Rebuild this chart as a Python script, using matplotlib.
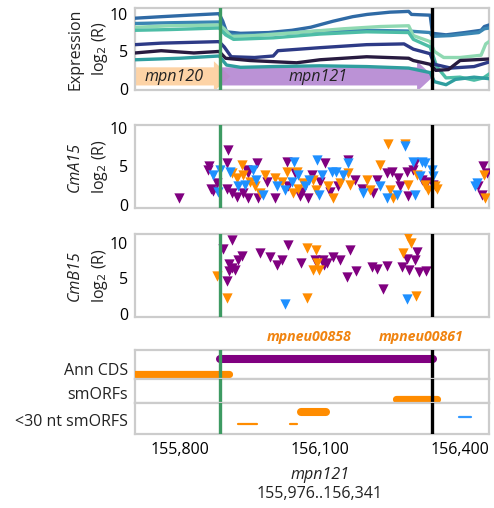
import matplotlib
matplotlib.use('Agg')
import matplotlib.pyplot as plt
from matplotlib.patches import Polygon

plt.rcParams['font.family'] = ['Open Sans', 'DejaVu Sans']
plt.rcParams['font.size'] = 11.5
plt.rcParams['text.color'] = '#222222'

# ---- data -------------------------------------------------------------
xlim = (155704, 156462)
green_pos = 155886
black_pos = 156340
tick_pos = [155800, 156100, 156400]
tick_labels = ['155,800', '156,100', '156,400']

# expression tracks (position, log2 R)
expr_pos = {
    'L1': [155704, 155760, 155820, 155884, 155892, 155900, 155930, 155990, 156040, 156080,
           156128, 156170, 156201, 156250, 156290, 156296, 156336, 156341, 156370, 156410,
           156445, 156452, 156462],
    'L2': [155704, 155780, 155884, 155895, 155905, 155960, 156020, 156100, 156200, 156290,
           156336, 156341, 156380, 156440, 156452, 156462],
    'L3': [155704, 155780, 155884, 155895, 155910, 155960, 156050, 156150, 156230, 156290,
           156300, 156336, 156345, 156365, 156400, 156445, 156455, 156462],
    'L4': [155704, 155780, 155884, 155898, 155915, 156000, 156100, 156200, 156290, 156300,
           156336, 156350, 156370, 156400, 156430, 156450, 156462],
    'L5': [155704, 155760, 155884, 155895, 155910, 155960, 156000, 156010, 156100, 156200,
           156280, 156300, 156336, 156345, 156380, 156430, 156462],
    'L6': [155704, 155760, 155830, 155884, 155898, 155950, 156050, 156100, 156200, 156290,
           156300, 156336, 156348, 156375, 156400, 156462],
    'L7': [155704, 155800, 155884, 155900, 155930, 156000, 156100, 156200, 156290, 156336,
           156345, 156370, 156390, 156430, 156462],
}
expr_val = {
    'L1': [9.4, 9.6, 9.8, 10.0, 9.0, 7.6, 7.4, 7.5, 7.8, 8.2, 9.0, 9.6, 9.9, 10.2, 10.3, 9.9,
           9.8, 7.4, 7.2, 7.5, 7.8, 8.3, 8.5],
    'L2': [8.7, 8.8, 8.9, 8.0, 7.2, 7.2, 7.4, 7.7, 7.8, 7.7, 7.5, 7.0, 7.1, 7.5, 8.0, 8.1],
    'L3': [8.2, 8.4, 8.5, 8.0, 7.0, 7.1, 7.5, 8.0, 8.3, 8.4, 7.1, 6.3, 5.0, 4.2, 4.2, 4.5,
           6.0, 6.3],
    'L4': [7.8, 7.9, 8.1, 7.2, 6.6, 6.8, 7.3, 7.6, 7.5, 6.6, 5.6, 3.0, 1.5, 1.6, 1.2, 1.5, 2.0],
    'L5': [5.9, 6.1, 6.3, 5.6, 4.3, 4.2, 4.4, 5.1, 5.5, 5.9, 6.0, 5.3, 4.7, 3.3, 2.8, 3.0, 3.6],
    'L6': [4.8, 5.1, 4.8, 5.0, 4.1, 3.8, 3.5, 3.9, 4.3, 4.1, 3.8, 3.3, 2.5, 2.6, 3.8, 4.0],
    'L7': [3.9, 4.1, 4.4, 3.2, 2.9, 3.0, 3.1, 3.0, 2.8, 2.2, 1.0, 0.6, 1.3, 1.6, 1.4],
}
expr_colors = {'L1': '#2f6aa5', 'L2': '#3a86b3', 'L3': '#8fd9b2', 'L4': '#4dbda6',
               'L5': '#2d3a86', 'L6': '#281b40', 'L7': '#2f9e9f'}

# genes drawn in the expression panel
gene_names = ['mpn120', 'mpn121']
gene_start = [155650, 155886]
gene_end = [155908, 156343]
gene_colors = ['#fdcf9c', '#b486d2']

# CmA15 peptides
a_purple_pos = [155798, 155860, 155863, 155867, 155871, 155880, 155903, 155901, 155901, 155912,
                155923, 155935, 155944, 155946, 155946, 155965, 155968, 155987, 156004, 156030,
                156032, 156047, 156058, 156062, 156075, 156083, 156100, 156111, 156122, 156139,
                156160, 156175, 156190, 156214, 156223, 156244, 156255, 156268, 156272, 156287,
                156289, 156300, 156304, 156319, 156330, 156343, 156439, 156448, 156450, 156458]
a_purple_val = [0.9, 4.5, 5.1, 2.1, 1.8, 2.8, 7.2, 5.4, 2.1, 1.5,
                1.0, 1.5, 4.6, 4.1, 0.9, 5.4, 0.9, 3.0, 0.9, 5.6,
                2.4, 4.1, 1.1, 1.7, 0.9, 3.9, 3.0, 5.4, 1.7, 2.4,
                5.9, 3.2, 2.1, 1.5, 3.2, 4.2, 4.3, 3.5, 2.4, 4.3,
                1.1, 4.5, 5.5, 3.2, 3.0, 2.6, 2.4, 1.3, 5.0, 4.1]
a_orange_pos = [155912, 155923, 155933, 155935, 155950, 155961, 155972, 155983, 156004, 156019,
                156030, 156043, 156051, 156053, 156064, 156085, 156092, 156118, 156128, 156143,
                156160, 156165, 156201, 156208, 156229, 156246, 156250, 156257, 156283, 156289,
                156308, 156325, 156332, 156347, 156351, 156452, 156454]
a_orange_val = [4.1, 3.5, 5.2, 3.9, 3.0, 2.4, 1.5, 3.9, 3.5, 3.0,
                4.3, 1.5, 4.3, 2.1, 2.8, 3.2, 1.9, 2.4, 0.9, 2.8,
                4.2, 2.6, 3.2, 1.9, 5.2, 7.9, 1.9, 0.9, 7.9, 2.6,
                3.9, 2.6, 1.9, 2.4, 2.1, 3.9, 0.9]
a_blue_pos = [155871, 155882, 155886, 155908, 155925, 155940, 155957, 155963, 155978, 156008,
              156025, 156040, 156045, 156053, 156068, 156077, 156094, 156098, 156105, 156126,
              156135, 156150, 156160, 156193, 156229, 156244, 156265, 156283, 156300, 156304,
              156315, 156319, 156325, 156340, 156343, 156433, 156437]
a_blue_val = [3.9, 1.7, 4.6, 4.3, 2.4, 2.6, 4.5, 3.2, 1.3, 2.4,
              1.9, 3.0, 5.6, 3.9, 2.4, 3.2, 5.9, 1.3, 3.9, 4.3,
              4.3, 3.9, 5.4, 1.5, 2.4, 0.9, 1.3, 7.7, 5.6, 1.3,
              3.7, 5.6, 5.4, 4.5, 3.7, 2.5, 2.9]

# CmB15 peptides
b_purple_pos = [155893, 155912, 155901, 155905, 155912, 155918, 155905, 155925, 155933, 155972,
                155993, 156008, 156019, 156032, 156060, 156090, 156107, 156115, 156109, 156128,
                156143, 156158, 156165, 156178, 156212, 156223, 156244, 156235, 156308, 156287,
                156304, 156276, 156291, 156313, 156328]
b_purple_val = [9.1, 10.3, 4.6, 7.0, 6.4, 6.2, 6.0, 7.6, 8.1, 8.6,
                8.0, 6.9, 7.6, 9.6, 7.2, 7.5, 7.5, 7.2, 6.9, 8.0,
                7.5, 5.2, 8.9, 6.0, 6.6, 6.3, 6.7, 3.5, 8.7, 7.7,
                7.5, 6.6, 6.2, 5.9, 6.0]
b_orange_pos = [155880, 155901, 156073, 156073, 156092, 156085, 156098, 156094, 156289, 156296,
                156278, 156306]
b_orange_val = [5.3, 2.3, 2.3, 9.3, 8.9, 6.2, 6.2, 7.2, 10.8, 9.9, 8.6, 2.5]
b_blue_pos = [156025, 156287]
b_blue_val = [1.4, 2.1]

# annotation tracks: (start, end, color)
ann_cds = [(155886, 156343, '#800080'), (155650, 155905, '#ff8c00')]
smorfs = [(156263, 156351, '#ff8c00')]
short_smorfs = [(156060, 156113, '#ff8c00'), (155925, 155965, '#ff8c00'),
                (156036, 156051, '#ff8c00'), (156398, 156424, '#3399ff')]
smorf_names = ['mpneu00858', 'mpneu00861']
smorf_name_pos = [156077, 156317]

purple = '#800080'
orange = '#ff8c00'
blue = '#1e90ff'
green = '#3d9a62'
spine_col = '#cccccc'

# ---- figure -----------------------------------------------------------
W, H = 494, 508
fig = plt.figure(figsize=(W / 100, H / 100), dpi=100)


def box(top, bottom, left=135, right=489):
    return [left / W, 1 - bottom / H, (right - left) / W, (bottom - top) / H]


def style(ax):
    for s in ax.spines.values():
        s.set_color(spine_col)
        s.set_linewidth(1.6)
    ax.tick_params(length=0, pad=5)
    ax.set_xlim(*xlim)
    ax.set_xticks([])
    ax.axvline(green_pos, color=green, lw=2.4, zorder=5)
    ax.axvline(black_pos, color='black', lw=2.4, zorder=5)


def ylab(ax, first, italic):
    ax.text(-0.169, 0.5, first, transform=ax.transAxes, rotation=90, ha='center',
            va='center', style='italic' if italic else 'normal', fontsize=11.5)
    ax.text(-0.099, 0.5, 'log$_2$ (R)', transform=ax.transAxes, rotation=90, ha='center',
            va='center', fontsize=11.5)


# Expression panel
ax1 = fig.add_axes(box(8, 90))
style(ax1)
ax1.set_ylim(-0.1, 10.75)
ax1.set_yticks([0, 5, 10])
head = 35
for name, s, e, c in zip(gene_names, gene_start, gene_end, gene_colors):
    pts = [(s, 0.5), (e - head, 0.5), (e - head, -0.3), (e, 1.7), (e - head, 3.7),
           (e - head, 2.9), (s, 2.9)]
    ax1.add_patch(Polygon(pts, closed=True, facecolor=c, edgecolor='none', alpha=0.9, zorder=1))
    mid = (max(s, xlim[0]) + e - head) / 2
    ax1.text(mid, 1.65, name, style='italic', ha='center', va='center', fontsize=11.5, zorder=2)
for key in ['L1', 'L2', 'L3', 'L4', 'L5', 'L6', 'L7']:
    ax1.plot(expr_pos[key], expr_val[key], color=expr_colors[key], lw=2.4, zorder=3)
ylab(ax1, 'Expression', False)

# CmA15 panel
ax2 = fig.add_axes(box(125, 208))
style(ax2)
ax2.set_ylim(-0.4, 10.4)
ax2.set_yticks([0, 5, 10])
ax2.scatter(a_purple_pos, a_purple_val, marker='v', s=55, color=purple, lw=0, zorder=3)
ax2.scatter(a_orange_pos, a_orange_val, marker='v', s=55, color=orange, lw=0, zorder=3)
ax2.scatter(a_blue_pos, a_blue_val, marker='v', s=55, color=blue, lw=0, zorder=3)
ylab(ax2, 'CmA15', True)

# CmB15 panel
ax3 = fig.add_axes(box(234, 317))
style(ax3)
ax3.set_ylim(-0.4, 11.2)
ax3.set_yticks([0, 5, 10])
ax3.scatter(b_purple_pos, b_purple_val, marker='v', s=55, color=purple, lw=0, zorder=3)
ax3.scatter(b_orange_pos, b_orange_val, marker='v', s=55, color=orange, lw=0, zorder=3)
ax3.scatter(b_blue_pos, b_blue_val, marker='v', s=55, color=blue, lw=0, zorder=3)
ylab(ax3, 'CmB15', True)

# annotation rows
r1 = fig.add_axes(box(350, 379))
r2 = fig.add_axes(box(379, 403))
r3 = fig.add_axes(box(403, 434))
for ax, lab, ly in [(r1, 'Ann CDS', 0.28), (r2, 'smORFs', 0.34), (r3, '<30 nt smORFS', 0.39)]:
    style(ax)
    ax.set_ylim(1, 0)
    ax.set_yticks([])
    ax.text(-0.02, ly, lab, transform=ax.transAxes, ha='right', va='center', fontsize=11.5)

r1.plot([ann_cds[0][0], ann_cds[0][1]], [0.31, 0.31], color=ann_cds[0][2], lw=5.8,
        solid_capstyle='round', zorder=3)
r1.plot([ann_cds[1][0], ann_cds[1][1]], [0.83, 0.83], color=ann_cds[1][2], lw=5.2,
        solid_capstyle='round', zorder=3)
r2.plot([smorfs[0][0], smorfs[0][1]], [0.83, 0.83], color=smorfs[0][2], lw=5.2,
        solid_capstyle='round', zorder=3)
lanes = [0.29, 0.68, 0.68, 0.45]
widths = [5.8, 1.6, 1.6, 1.6]
for (s, e, c), y, w in zip(short_smorfs, lanes, widths):
    r3.plot([s, e], [y, y], color=c, lw=w, solid_capstyle='round', zorder=3)

for name, p in zip(smorf_names, smorf_name_pos):
    r1.text(p, -0.45, name, color='#f0830f', style='italic', weight='bold', ha='center',
            va='center', fontsize=10.2, clip_on=False)

r3.set_xticks(tick_pos)
r3.set_xticklabels(tick_labels)
r3.tick_params(axis='x', pad=6)

fig.text(320 / W, 1 - 475 / H, 'mpn121', style='italic', ha='center', va='center',
         fontsize=11.5)
fig.text(320 / W, 1 - 494 / H, '155,976..156,341', ha='center', va='center', fontsize=11.5)

fig.savefig('out.png', dpi=100)
